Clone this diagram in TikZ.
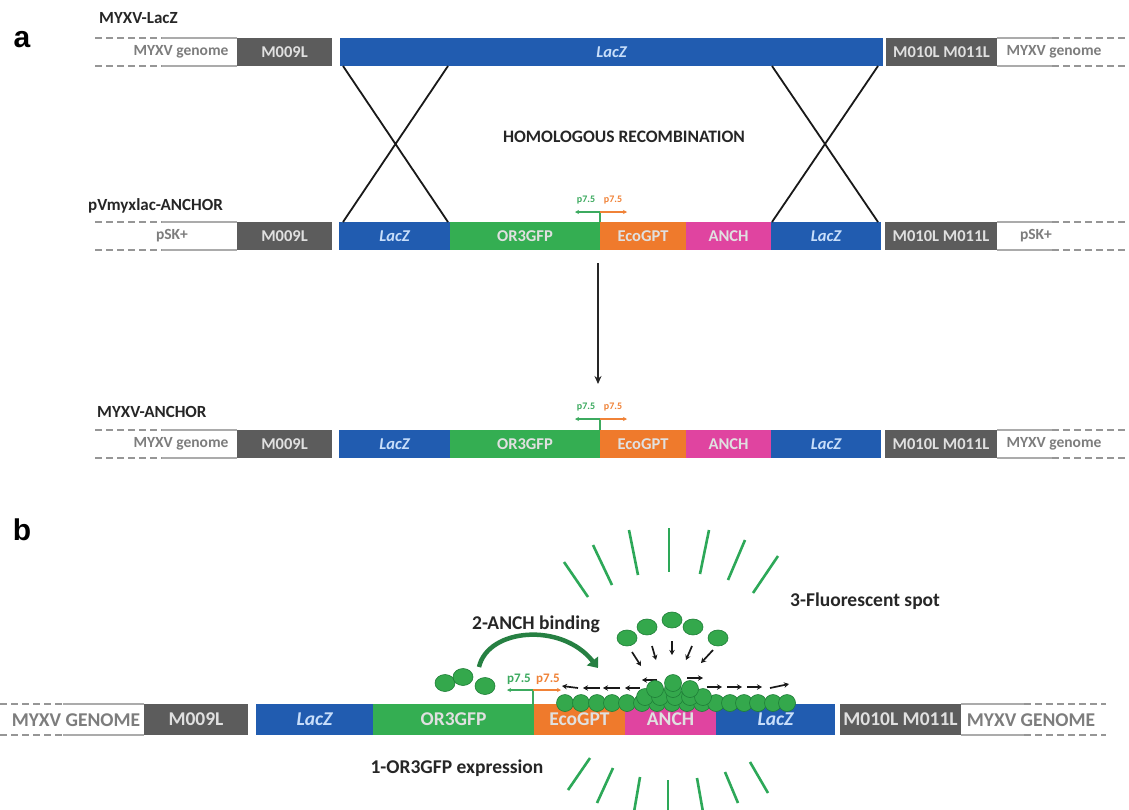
\documentclass[tikz,border=0pt]{standalone}
\usepackage{fontspec}
\setmainfont{Carlito}
\newfontfamily\arialfont{Liberation Sans}
\usetikzlibrary{arrows.meta}
\definecolor{cblue}{RGB}{33,92,176}
\definecolor{cgray}{RGB}{92,92,92}
\definecolor{cgreen}{RGB}{52,174,82}
\definecolor{corange}{RGB}{239,122,44}
\definecolor{cmag}{RGB}{224,68,160}
\definecolor{ctxtgray}{RGB}{125,125,125}
\definecolor{cline}{RGB}{150,150,150}
\definecolor{cdot}{RGB}{52,168,76}
\definecolor{cdotedge}{RGB}{30,125,55}
\definecolor{cray}{RGB}{45,168,88}
\definecolor{carr}{RGB}{38,128,66}
\definecolor{clacz}{RGB}{200,222,250}
\definecolor{cpg}{RGB}{60,170,95}
\definecolor{cpo}{RGB}{240,130,55}
\begin{document}
\begin{tikzpicture}[x=1pt,y=-1pt,
  segA/.style={rectangle, inner sep=0pt, outer sep=0pt, anchor=north west, minimum height=28pt,
     font=\fontsize{16.5}{16.5}\selectfont\bfseries, text=white!88!black},
  segB/.style={segA, minimum height=31pt, font=\fontsize{19.5}{19.5}\selectfont\bfseries},
  lz/.style={text=clacz, font=\fontsize{16.5}{16.5}\selectfont\bfseries\itshape},
  lzB/.style={text=clacz, font=\fontsize{19.5}{19.5}\selectfont\bfseries\itshape},
  gtxt/.style={text=ctxtgray, inner sep=0pt, font=\fontsize{15.5}{15.5}\selectfont\bfseries},
  gtxtB/.style={text=ctxtgray, inner sep=0pt, font=\fontsize{19.5}{19.5}\selectfont\bfseries},
  rowlbl/.style={anchor=west, inner sep=0pt, font=\fontsize{17}{17}\selectfont\bfseries, text=black!85},
  blbl/.style={inner sep=0pt, font=\fontsize{19.5}{19.5}\selectfont\bfseries, text=black!85},
  dashl/.style={draw=cline, line width=1.3pt, dash pattern=on 7pt off 4pt},
  soll/.style={draw=cline!80, line width=1.3pt},
  pg/.style={draw=cpg, line width=1.2pt},
  pgarr/.style={draw=cpg, line width=1.2pt, -{Stealth[length=4pt,width=4pt]}},
  poarr/.style={draw=cpo, line width=1.2pt, -{Stealth[length=4pt,width=4pt]}},
  plbl/.style={inner sep=0pt, font=\fontsize{10}{10}\selectfont\bfseries},
  plblB/.style={inner sep=0pt, font=\fontsize{13}{13}\selectfont\bfseries},
  xline/.style={draw=black!90, line width=1.8pt},
  dot/.style={fill=cdot, draw=cdotedge, line width=0.6pt},
  ray/.style={draw=cray, line width=2.6pt},
  smarr/.style={draw=black!90, line width=1.7pt, -{Stealth[length=5pt,width=5.5pt]}},
  panel/.style={inner sep=0pt, font=\arialfont\fontsize{30}{30}\selectfont\bfseries}
]
\useasboundingbox[fill=white] (0,0) rectangle (1129,809);

% panel labels
\node[panel] (pa) at (22,40) {a};
\node[panel] (pb) at (22,530) {b};

% ================= Row 1: MYXV-LacZ =================
\node[rowlbl] (t1) at (99,18) {MYXV-LacZ};
\draw[dashl] (95,38) -- (162,38) (95,66) -- (162,66);
\draw[soll] (162,38) -- (237,38) (162,66) -- (237,66);
\node[gtxt] (g1l) at (181,52) {MYXV genome};
\node[segA, fill=cgray, minimum width=95pt] (r1m9) at (237,38) {M009L};
\node[segA, fill=cblue, minimum width=543pt, lz] (r1lz) at (340,38) {LacZ};
\node[segA, fill=cgray, minimum width=111pt] (r1m10) at (886,38) {M010L M011L};
\draw[soll] (997,38) -- (1052,38) (997,66) -- (1052,66);
\draw[dashl] (1052,38) -- (1129,38) (1052,66) -- (1129,66);
\node[gtxt] (g1r) at (1054,52) {MYXV genome};

% ================= Row 2: pVmyxlac-ANCHOR =================
\node[rowlbl] (t2) at (88,206) {pVmyxlac-ANCHOR};
\draw[dashl] (95,222) -- (162,222) (95,250) -- (162,250);
\draw[soll] (162,222) -- (237,222) (162,250) -- (237,250);
\node[gtxt] (p2l) at (172,236) {pSK+};
\node[segA, fill=cgray, minimum width=95pt] (r2m9) at (237,222) {M009L};
\node[segA, fill=cblue, minimum width=111pt, lz] (r2lz1) at (339,222) {LacZ};
\node[segA, fill=cgreen, minimum width=150pt] (r2or) at (450,222) {OR3GFP};
\node[segA, fill=corange, minimum width=86pt] (r2eco) at (600,222) {EcoGPT};
\node[segA, fill=cmag, minimum width=85pt] (r2an) at (686,222) {ANCH};
\node[segA, fill=cblue, minimum width=110pt, lz] (r2lz2) at (771,222) {LacZ};
\node[segA, fill=cgray, minimum width=112pt] (r2m10) at (885,222) {M010L M011L};
\draw[soll] (997,222) -- (1052,222) (997,250) -- (1052,250);
\draw[dashl] (1052,222) -- (1129,222) (1052,250) -- (1129,250);
\node[gtxt] (p2r) at (1036,236) {pSK+};
% promoter row 2
\coordinate (pr2) at (600,222);
\coordinate (pk2) at (600,212);
\coordinate (pl2) at (575,212);
\coordinate (pq2) at (627,212);
\draw[pg] (pr2) -- (pk2);
\draw[pgarr] (pk2) -- (pl2);
\draw[poarr] (pk2) -- (pq2);
\node[plbl, text=cpg] (pt2a) at (586,200) {p7.5};
\node[plbl, text=cpo] (pt2b) at (613,200) {p7.5};

% crossing lines
\coordinate (x1a) at (343,66); \coordinate (x1b) at (448,66);
\coordinate (x2a) at (343,222); \coordinate (x2b) at (448,222);
\coordinate (x3a) at (772,66); \coordinate (x3b) at (878,66);
\coordinate (x4a) at (772,222); \coordinate (x4b) at (878,222);
\draw[xline] (x1a) -- (x2b) (x1b) -- (x2a);
\draw[xline] (x3a) -- (x4b) (x3b) -- (x4a);
\node[inner sep=0pt, font=\fontsize{17.5}{17.5}\selectfont\bfseries, text=black!85] (hr) at (624,137) {HOMOLOGOUS RECOMBINATION};

% vertical arrow
\coordinate (va1) at (598,263);
\coordinate (va2) at (598,384);
\draw[draw=black!85, line width=1.4pt, -{Stealth[length=8pt,width=7pt]}] (va1) -- (va2);

% ================= Row 3: MYXV-ANCHOR =================
\node[rowlbl] (t3) at (97,412) {MYXV-ANCHOR};
\draw[dashl] (95,430) -- (162,430) (95,458) -- (162,458);
\draw[soll] (162,430) -- (237,430) (162,458) -- (237,458);
\node[gtxt] (g3l) at (181,444) {MYXV genome};
\node[segA, fill=cgray, minimum width=95pt] (r3m9) at (237,430) {M009L};
\node[segA, fill=cblue, minimum width=111pt, lz] (r3lz1) at (339,430) {LacZ};
\node[segA, fill=cgreen, minimum width=150pt] (r3or) at (450,430) {OR3GFP};
\node[segA, fill=corange, minimum width=86pt] (r3eco) at (600,430) {EcoGPT};
\node[segA, fill=cmag, minimum width=85pt] (r3an) at (686,430) {ANCH};
\node[segA, fill=cblue, minimum width=110pt, lz] (r3lz2) at (771,430) {LacZ};
\node[segA, fill=cgray, minimum width=112pt] (r3m10) at (885,430) {M010L M011L};
\draw[soll] (997,430) -- (1052,430) (997,458) -- (1052,458);
\draw[dashl] (1052,430) -- (1129,430) (1052,458) -- (1129,458);
\node[gtxt] (g3r) at (1054,444) {MYXV genome};
\coordinate (pr3) at (600,430);
\coordinate (pk3) at (600,419);
\coordinate (pl3) at (575,419);
\coordinate (pq3) at (627,419);
\draw[pg] (pr3) -- (pk3);
\draw[pgarr] (pk3) -- (pl3);
\draw[poarr] (pk3) -- (pq3);
\node[plbl, text=cpg] (pt3a) at (586,407) {p7.5};
\node[plbl, text=cpo] (pt3b) at (613,407) {p7.5};

% ================= Panel b =================
% rays top
\draw[ray] (564,562) -- (588,597);
\draw[ray] (593,545) -- (612,585);
\draw[ray] (629,530) -- (638,575);
\draw[ray] (669,528) -- (669,572);
\draw[ray] (709,530) -- (700,574);
\draw[ray] (745,540) -- (728,580);
\draw[ray] (778,556) -- (753,593);
% rays bottom
\draw[ray] (590,758) -- (568,790);
\draw[ray] (613,768) -- (597,803);
\draw[ray] (640,777) -- (634,812);
\draw[ray] (668,780) -- (668,812);
\draw[ray] (697,778) -- (703,812);
\draw[ray] (725,772) -- (738,803);
\draw[ray] (750,762) -- (768,793);

\node[blbl, anchor=west] (fs) at (790,601) {3-Fluorescent spot};
\node[blbl] (ab) at (536,624) {2-ANCH binding};
\node[blbl] (oe) at (457,768) {1-OR3GFP expression};

% bar
\draw[dashl] (0,704) -- (63,704) (0,735) -- (63,735);
\draw[soll] (63,704) -- (144,704) (63,735) -- (144,735);
\node[gtxtB] (gbl) at (76,720) {MYXV GENOME};
\node[segB, fill=cgray, minimum width=104pt] (bm9) at (144,704) {M009L};
\node[segB, fill=cblue, minimum width=117pt, lzB] (blz1) at (256,704) {LacZ};
\node[segB, fill=cgreen, minimum width=161pt] (bor) at (373,704) {OR3GFP};
\node[segB, fill=corange, minimum width=91pt] (beco) at (534,704) {EcoGPT};
\node[segB, fill=cmag, minimum width=91pt] (ban) at (625,704) {ANCH};
\node[segB, fill=cblue, minimum width=119pt, lzB] (blz2) at (716,704) {LacZ};
\node[segB, fill=cgray, minimum width=121pt] (bm10) at (840,704) {M010L M011L};
\draw[soll] (961,704) -- (1024,704) (961,735) -- (1024,735);
\draw[dashl] (1024,704) -- (1106,704) (1024,735) -- (1106,735);
\node[gtxtB] (gbr) at (1031,720) {MYXV GENOME};

% promoter b
\coordinate (prb) at (533,704);
\coordinate (pkb) at (533,690);
\coordinate (plb) at (507,690);
\coordinate (pqb) at (561,690);
\draw[pg] (prb) -- (pkb);
\draw[pgarr] (pkb) -- (plb);
\draw[poarr] (pkb) -- (pqb);
\node[plblB, text=cpg] (ptba) at (519,679) {p7.5};
\node[plblB, text=cpo] (ptbb) at (548,679) {p7.5};

% curved arrow
\coordinate (ca1) at (479,667);
\coordinate (ca2) at (598,668);
\draw[draw=carr, line width=4.5pt, -{Triangle[length=9pt,width=14pt]}] (ca1) .. controls (488,628) and (562,622) .. (ca2);

% free dots
\foreach \x/\y in {445/683, 463/677, 485/686}
  \filldraw[dot] (\x,\y) ellipse [x radius=10pt, y radius=8.5pt];
% top dots
\foreach \x/\y in {627/638, 647/627, 672/620, 693/627, 718/638}
  \filldraw[dot] (\x,\y) ellipse [x radius=10pt, y radius=8pt];
% down arrows
\draw[smarr] (632,652) -- (641,666);
\draw[smarr] (652,646) -- (656,660);
\draw[smarr] (672,641) -- (672,655);
\draw[smarr] (692,646) -- (686,660);
\draw[smarr] (713,650) -- (701,663);
% horizontal arrows
\draw[smarr] (578,688) -- (562,686);
\draw[smarr] (600,688) -- (583,688);
\draw[smarr] (620,688) -- (603,688);
\draw[smarr] (640,688) -- (625,688);
\draw[smarr] (657,680) -- (642,680);
\draw[smarr] (687,678) -- (703,678);
\draw[smarr] (707,687) -- (722,687);
\draw[smarr] (727,687) -- (742,687);
\draw[smarr] (747,687) -- (762,687);
\draw[smarr] (770,688) -- (789,684);
% bound dots
\foreach \x in {565,581,597,612,627,642,657,672,687,702,716,730,744,758,773,787}
  \filldraw[dot] (\x,703) circle [radius=8.5pt];
\foreach \x in {645,660,675,690,703}
  \filldraw[dot] (\x,697) circle [radius=8.5pt];
\foreach \x in {655,673,690}
  \filldraw[dot] (\x,689) circle [radius=8.5pt];
\filldraw[dot] (673,683) circle [radius=8.5pt];
\end{tikzpicture}
\end{document}
